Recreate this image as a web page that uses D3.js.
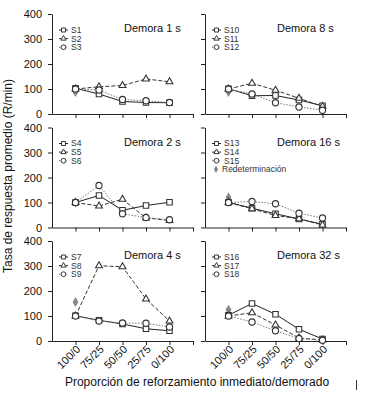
<!DOCTYPE html>
<html>
<head>
<meta charset="utf-8">
<script src="https://cdn.jsdelivr.net/npm/d3@7"></script>
<style>
  body { margin: 0; background: #fff; }
  svg { font-family: Arial, "Liberation Sans", sans-serif; }
</style>
</head>
<body>
<div id="chart"></div>
<script>
// ==============================
// Data
// ==============================
var categories = ["100/0", "75/25", "50/50", "25/75", "0/100"];
var yTicks = [0, 100, 200, 300, 400];

// panel order: row by row, left then right
var panelTitles = ["Demora 1 s", "Demora 8 s", "Demora 2 s", "Demora 16 s", "Demora 4 s", "Demora 32 s"];
var subjectNames = [
  ["S1", "S2", "S3"], ["S10", "S11", "S12"],
  ["S4", "S5", "S6"], ["S13", "S14", "S15"],
  ["S7", "S8", "S9"], ["S16", "S17", "S18"]
];

var S1 = [103, 80, 50, 46, 45];
var S2 = [100, 109, 114, 140, 129];
var S3 = [100, 96, 58, 53, 46];

var S10 = [101, 73, 74, 56, 33];
var S11 = [100, 123, 95, 63, 30];
var S12 = [100, 80, 45, 28, 15];

var S4 = [100, 128, 69, 88, 101];
var S5 = [100, 86, 113, 38, 28];
var S6 = [100, 168, 55, 40, 31];

var S13 = [101, 77, 55, 34, 13];
var S14 = [100, 75, 48, 35, 10];
var S15 = [100, 104, 95, 57, 38];

var S7 = [101, 83, 68, 49, 41];
var S8 = [100, 301, 297, 168, 80];
var S9 = [100, 80, 72, 71, 56];

var S16 = [103, 150, 107, 47, 8];
var S17 = [100, 113, 64, 12, 4];
var S18 = [100, 76, 41, 10, 3];

var panelSeries = [[S1, S2, S3], [S10, S11, S12], [S4, S5, S6], [S13, S14, S15], [S7, S8, S9], [S16, S17, S18]];

// redetermination value at 100/0, one per panel
var redeterminacion = [88, 88, 100, 120, 156, 125];

// ==============================
// Layout
// ==============================
var svgWidth = 384;
var svgHeight = 399;
var colX = [52, 205];
var rowTop = [14, 127.5, 241];
var panelW = 141;
var panelH = 100;

var svg = d3.select("#chart")
  .append("svg")
  .attr("width", svgWidth)
  .attr("height", svgHeight);

var lineStyles = [
  { stroke: "#222", dash: null },
  { stroke: "#333", dash: "4,2" },
  { stroke: "#777", dash: "1.5,1.5" }
];
var markerTypes = [d3.symbolSquare, d3.symbolTriangle, d3.symbolCircle];
var markerSizes = [30, 20, 30];
var legendSizes = [16, 12, 18];

panelTitles.forEach(function(title, i) {
  var col = i % 2;
  var row = Math.floor(i / 2);
  var g = svg.append("g")
    .attr("transform", `translate(${colX[col]}, ${rowTop[row]})`);

  var x = d3.scaleLinear().domain([0, 6]).range([0, panelW]);
  var y = d3.scaleLinear().domain([0, 400]).range([panelH, 0]);

  // y axis
  var leftAxis = d3.axisLeft(y).tickValues(yTicks).tickSize(4).tickSizeOuter(0).tickPadding(6);
  if (col === 1) leftAxis.tickFormat("");
  var yG = g.append("g").call(leftAxis);
  yG.selectAll("text").attr("font-size", "11px").attr("fill", "#111");

  // x axis
  var bottomAxis = d3.axisBottom(x).tickValues([1, 2, 3, 4, 5, 6]).tickSize(4).tickSizeOuter(0)
    .tickFormat(function(d) { return row === 2 && d <= 5 ? categories[d - 1] : ""; });
  var xG = g.append("g")
    .attr("transform", `translate(0, ${panelH})`)
    .call(bottomAxis);
  xG.selectAll("text")
    .attr("font-size", "11px")
    .attr("fill", "#111")
    .attr("text-anchor", "end")
    .attr("x", 0)
    .attr("y", 0)
    .attr("dy", 0)
    .attr("transform", "translate(5, 9) rotate(-45)");

  [yG, xG].forEach(function(a) {
    a.selectAll("path, line").attr("stroke", "#222");
  });

  // redetermination point (behind)
  g.append("path")
    .attr("d", d3.symbol().type(d3.symbolDiamond).size(30)())
    .attr("transform", `translate(${x(1)}, ${y(redeterminacion[i])})`)
    .attr("fill", "#888");

  var line = d3.line()
    .x(function(d, j) { return x(j + 1); })
    .y(function(d) { return y(d); });

  panelSeries[i].forEach(function(vals, s) {
    g.append("path")
      .datum(vals)
      .attr("d", line)
      .attr("fill", "none")
      .attr("stroke", lineStyles[s].stroke)
      .attr("stroke-width", 1)
      .attr("stroke-dasharray", lineStyles[s].dash);
  });

  panelSeries[i].forEach(function(vals, s) {
    g.selectAll(null)
      .data(vals)
      .enter()
      .append("path")
      .attr("d", d3.symbol().type(markerTypes[s]).size(markerSizes[s])())
      .attr("transform", function(d, j) { return `translate(${x(j + 1)}, ${y(d)})`; })
      .attr("fill", "#fff")
      .attr("stroke", "#333")
      .attr("stroke-width", 1.1);
  });

  // legend
  subjectNames[i].forEach(function(name, s) {
    var ly = 16 + 8.6 * s;
    g.append("line")
      .attr("x1", 7).attr("x2", 16)
      .attr("y1", ly).attr("y2", ly)
      .attr("stroke", lineStyles[s].stroke)
      .attr("stroke-dasharray", lineStyles[s].dash);
    g.append("path")
      .attr("d", d3.symbol().type(markerTypes[s]).size(legendSizes[s])())
      .attr("transform", `translate(11.5, ${ly})`)
      .attr("fill", "#fff")
      .attr("stroke", "#333");
    g.append("text")
      .attr("x", 19)
      .attr("y", ly)
      .attr("dy", "0.35em")
      .attr("font-size", "8.5px")
      .attr("fill", "#333")
      .text(name);
  });
  if (i === 3) {
    var ry = 16 + 8.6 * 3;
    g.append("path")
      .attr("d", d3.symbol().type(d3.symbolDiamond).size(16)())
      .attr("transform", `translate(11, ${ry})`)
      .attr("fill", "#888");
    g.append("text")
      .attr("x", 17)
      .attr("y", ry)
      .attr("dy", "0.35em")
      .attr("font-size", "8.5px")
      .attr("fill", "#333")
      .text("Redeterminación");
  }

  // panel title
  g.append("text")
    .attr("x", 72)
    .attr("y", 18)
    .attr("font-size", "11px")
    .attr("fill", "#111")
    .text(title);
});

// axis titles
svg.append("text")
  .attr("transform", "rotate(-90)")
  .attr("x", -176)
  .attr("y", 12)
  .attr("text-anchor", "middle")
  .attr("font-size", "12px")
  .attr("fill", "#111")
  .text("Tasa de respuesta promedio (R/min)");

svg.append("text")
  .attr("x", 197)
  .attr("y", 386)
  .attr("text-anchor", "middle")
  .attr("font-size", "12px")
  .attr("fill", "#111")
  .text("Proporción de reforzamiento inmediato/demorado");

// small stray mark at bottom right
svg.append("line")
  .attr("x1", 356.5).attr("x2", 356.5)
  .attr("y1", 380).attr("y2", 390)
  .attr("stroke", "#333");
</script>
</body>
</html>
